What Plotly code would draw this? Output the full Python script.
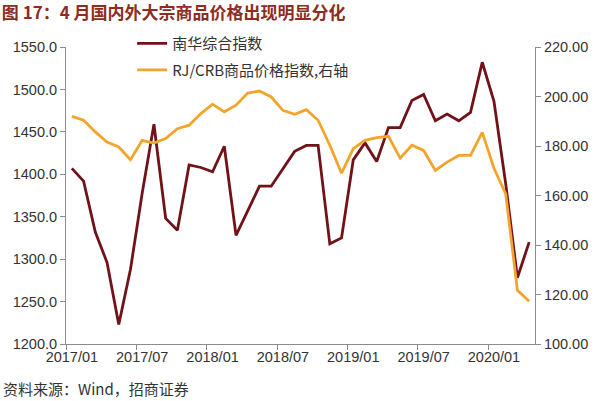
import plotly.graph_objects as go

months = [f"{y}/{m:02d}" for y in (2017, 2018, 2019, 2020) for m in range(1, 13)][:40]

nanhua = [1407, 1392, 1332, 1296, 1223, 1288, 1378, 1459, 1348, 1334,
          1411, 1408, 1403, 1433, 1328, 1358, 1386, 1386, 1406, 1427,
          1434, 1434, 1318, 1325, 1417, 1437, 1415, 1455, 1455, 1487,
          1494, 1463, 1471, 1463, 1473, 1532, 1486, 1389, 1278, 1320]

crb = [192.0, 190.4, 185.7, 181.6, 179.6, 174.5, 182.3, 181.2, 183.0, 187.0,
       188.4, 193.1, 196.9, 193.8, 196.5, 201.4, 202.2, 199.8, 194.4, 192.8,
       194.7, 190.4, 180.3, 169.0, 178.9, 182.3, 183.4, 183.9, 175.1, 180.3,
       178.2, 170.1, 173.5, 176.2, 176.2, 185.5, 171.0, 160.7, 121.7, 117.3]

name_nh = "南华综合指数"
name_crb = "RJ/CRB商品价格指数,右轴"
title_text = "图 17：4 月国内外大宗商品价格出现明显分化"
source_text = "资料来源：Wind，招商证券"

MAROON = "#701218"
ORANGE = "#F2A52A"
AXIS = "#8C8C8C"
TXT = "#333333"

fig = go.Figure()
fig.add_trace(go.Scatter(x=months, y=nanhua, name=name_nh, mode="lines",
                         line=dict(color=MAROON, width=2.8), legendgroup="a"))
fig.add_trace(go.Scatter(x=months, y=crb, name=name_crb, mode="lines",
                         line=dict(color=ORANGE, width=2.8), yaxis="y2", legendgroup="b"))

tickfont = dict(family="Liberation Sans, Arial", size=14.5, color=TXT)

fig.update_layout(
    width=600, height=401,
    margin=dict(l=66, r=60, t=47, b=57),
    paper_bgcolor="white", plot_bgcolor="white",
    showlegend=True,
    legend=dict(x=0.141, y=1.067, xanchor="left", yanchor="top",
                bgcolor="rgba(0,0,0,0)", borderwidth=0,
                font=dict(family="Noto Sans CJK SC", size=15, color=TXT),
                traceorder="grouped", tracegroupgap=4, itemwidth=30),
    xaxis=dict(type="category", range=[-0.5, 39.5], dtick=6, tickson="boundaries",
               tickangle=0,
               showline=True, linecolor=AXIS, linewidth=1, ticks="outside",
               ticklen=5, tickcolor=AXIS, showgrid=False, zeroline=False,
               tickfont=tickfont),
    yaxis=dict(range=[1200, 1550], dtick=50, tickformat=".1f",
               showline=True, linecolor=AXIS, linewidth=1, ticks="outside",
               ticklen=5, tickcolor=AXIS, showgrid=False, zeroline=False,
               tickfont=tickfont),
    yaxis2=dict(range=[100, 220], dtick=20, tickformat=".2f", overlaying="y",
                side="right", showline=True, linecolor=AXIS, linewidth=1,
                ticks="outside", ticklen=5, tickcolor=AXIS, showgrid=False,
                zeroline=False, tickfont=tickfont),
    title=dict(text=title_text, x=0.003, xanchor="left", xref="container",
               y=0.968, yanchor="middle", yref="container",
               font=dict(family="Noto Sans CJK SC", size=17, color="#8E2C1E", weight="bold")),
)

fig.add_annotation(text=source_text, xref="paper", yref="paper",
                   x=-66/474, y=-44/297, xanchor="left", yanchor="middle",
                   showarrow=False,
                   font=dict(family="Noto Sans CJK SC", size=15, color=TXT))

fig.write_html("out.html")
